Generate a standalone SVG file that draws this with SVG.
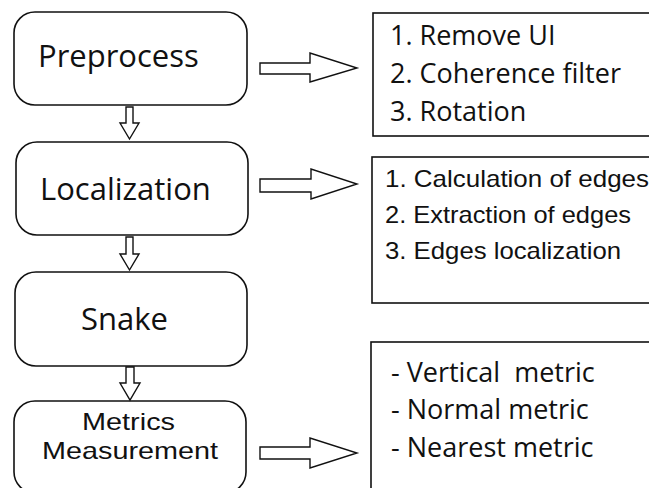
<svg xmlns="http://www.w3.org/2000/svg" width="649" height="488" viewBox="0 0 649 488">
<style>
.box{fill:#fff;stroke:#111;stroke-width:1.6}
.tbox{fill:#fff;stroke:#111;stroke-width:1.6}
.arr{fill:#fff;stroke:#111;stroke-width:1.4;stroke-linejoin:miter}
.main{font-family:"Open Sans","Noto Sans",sans-serif;font-size:31px;fill:#111}
.seg{font-family:"Open Sans","Noto Sans",sans-serif;font-size:27px;fill:#111;white-space:pre}
.ari{font-family:"Liberation Sans",Arial,sans-serif;font-size:24px;fill:#111}
</style>
<rect width="649" height="488" fill="#fff"/>
<g id="preprocess">
<rect class="box" x="14" y="12" width="233" height="93" rx="21"/>
<text class="main" x="38" y="67">Preprocess</text>
</g>
<g id="localization">
<rect class="box" x="16" y="142" width="232" height="93" rx="21"/>
<text class="main" x="40" y="200">Localization</text>
</g>
<g id="snake">
<rect class="box" x="15" y="272" width="232" height="94" rx="21"/>
<text class="main" x="81" y="330">Snake</text>
</g>
<g id="metrics">
<rect class="box" x="14" y="401" width="232" height="92" rx="21"/>
<text class="ari" x="82" y="430" textLength="93" lengthAdjust="spacingAndGlyphs">Metrics</text>
<text class="ari" x="42" y="459" textLength="176" lengthAdjust="spacingAndGlyphs">Measurement</text>
</g>
<g id="preprocess-steps">
<rect class="tbox" x="373" y="13" width="300" height="123"/>
<text class="seg" x="390" y="45">1. Remove UI</text>
<text class="seg" x="390" y="83">2. Coherence filter</text>
<text class="seg" x="390" y="121">3. Rotation</text>
</g>
<g id="localization-steps">
<rect class="tbox" x="372" y="157" width="300" height="146"/>
<text class="ari" x="385" y="187" textLength="264" lengthAdjust="spacingAndGlyphs">1. Calculation of edges</text>
<text class="ari" x="385" y="223" textLength="246" lengthAdjust="spacingAndGlyphs">2. Extraction of edges</text>
<text class="ari" x="385" y="259" textLength="236" lengthAdjust="spacingAndGlyphs">3. Edges localization</text>
</g>
<g id="metrics-list">
<rect class="tbox" x="371" y="342" width="300" height="160"/>
<text class="seg" x="391" y="382">- Vertical  metric</text>
<text class="seg" x="391" y="419">- Normal metric</text>
<text class="seg" x="391" y="457">- Nearest metric</text>
</g>
<g id="connectors">
<polygon class="arr" points="126,107 133,107 133,123 139,123 129.5,139 120,123 126,123"/>
<polygon class="arr" points="126,237 133,237 133,254 139,254 129.5,270 120,254 126,254"/>
<polygon class="arr" points="126,367 134,367 134,383 140,383 130,400 120,383 126,383"/>
<polygon class="arr" points="260,63 310,63 310,53 357,68 310,82 310,74 260,74"/>
<polygon class="arr" points="260,179 311,179 311,169 357,184 311,199 311,192 260,192"/>
<polygon class="arr" points="260,447 310,447 310,438 357,453 310,468 310,459 260,459"/>
</g>
</svg>
